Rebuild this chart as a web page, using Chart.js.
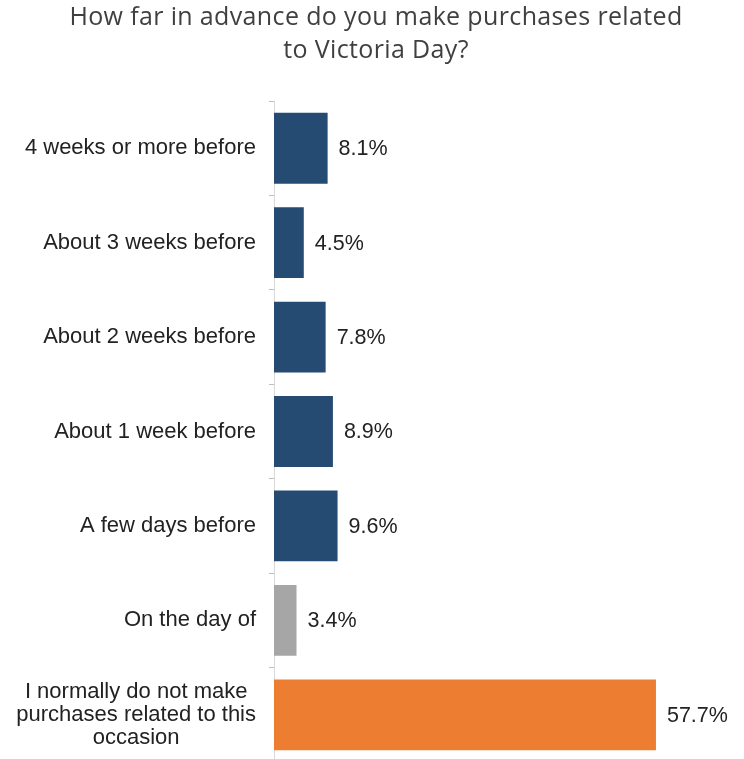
<!DOCTYPE html>
<html>
<head>
<meta charset="utf-8">
<script src="https://cdn.jsdelivr.net/npm/chart.js@4/dist/chart.umd.min.js"></script>
<style>
  html, body { margin: 0; padding: 0; background: #ffffff; overflow: hidden; }
  #wrap { width: 744px; height: 762px; }
</style>
</head>
<body>
<div id="wrap"><canvas id="chart"></canvas></div>
<script>
// Survey answers, top to bottom
const categories = [
  "4 weeks or more before",
  "About 3 weeks before",
  "About 2 weeks before",
  "About 1 week before",
  "A few days before",
  "On the day of",
  ["I normally do not make", "purchases related to this", "occasion"]
];
// Share of respondents (%)
const shares = [8.1, 4.5, 7.8, 8.9, 9.6, 3.4, 57.7];
const barColors = ["#264B73", "#264B73", "#264B73", "#264B73", "#264B73", "#A6A6A6", "#ED7D31"];
const titleLines = ["How far in advance do you make purchases related", "to Victoria Day?"];

const labelFont = "22px 'Liberation Sans', Arial, sans-serif";
const valueFont = "21.5px 'Liberation Sans', Arial, sans-serif";
const titleFont = "400 25px 'Open Sans', sans-serif";
const textColor = "#222222";

// Two-line heading above the plot
const heading = {
  id: "heading",
  afterDraw(chart) {
    const ctx = chart.ctx;
    ctx.save();
    ctx.font = titleFont;
    ctx.fillStyle = "#404040";
    ctx.textAlign = "center";
    ctx.textBaseline = "alphabetic";
    const cx = 376;
    const target = 613;
    if ("letterSpacing" in ctx) {
      const w = ctx.measureText(titleLines[0]).width;
      const sp = Math.max(0, (target - w) / titleLines[0].length);
      ctx.letterSpacing = sp.toFixed(2) + "px";
    }
    titleLines.forEach((t, k) => ctx.fillText(t, cx, 25 + k * 33));
    ctx.restore();
  }
};

// Category names (centred per label, right-aligned block) and value labels
const annotate = {
  id: "annotate",
  afterDatasetsDraw(chart) {
    const ctx = chart.ctx;
    const yScale = chart.scales.y;
    const xScale = chart.scales.x;
    const lineH = 23;
    ctx.save();
    ctx.fillStyle = textColor;
    ctx.textBaseline = "middle";

    ctx.font = labelFont;
    ctx.textAlign = "center";
    const rightEdge = yScale.right - 18;
    categories.forEach((lab, i) => {
      const lines = Array.isArray(lab) ? lab : [lab];
      const w = Math.max(...lines.map(l => ctx.measureText(l).width));
      const cx = rightEdge - w / 2;
      const cy = yScale.getPixelForValue(i);
      const y0 = cy - (lines.length - 1) * lineH / 2;
      lines.forEach((l, k) => ctx.fillText(l, cx, y0 + k * lineH));
    });

    ctx.font = valueFont;
    ctx.textAlign = "left";
    shares.forEach((v, i) => {
      const x = xScale.getPixelForValue(v) + 11;
      const y = yScale.getPixelForValue(i) + 1;
      ctx.fillText(v.toFixed(1) + "%", x, y);
    });
    ctx.restore();
  }
};

new Chart(document.getElementById("chart"), {
  type: "bar",
  data: {
    labels: categories,
    datasets: [{
      data: shares,
      backgroundColor: barColors,
      borderWidth: 0,
      barPercentage: 0.75,
      categoryPercentage: 1.0
    }]
  },
  options: {
    indexAxis: "y",
    responsive: true,
    maintainAspectRatio: false,
    animation: false,
    layout: { padding: { left: 8, right: 0, top: 101, bottom: 0 } },
    scales: {
      x: { display: false, min: 0, max: 71 },
      y: {
        grid: {
          display: true,
          drawOnChartArea: false,
          drawTicks: true,
          tickLength: 5,
          color: "#bfbfbf",
          offset: true
        },
        border: { display: true, color: "#d9d9d9", width: 1 },
        ticks: { display: false },
        afterFit(scale) { scale.width = 266; }
      }
    },
    plugins: {
      legend: { display: false },
      tooltip: { enabled: false },
      title: { display: false }
    }
  },
  plugins: [annotate, heading]
});
</script>
</body>
</html>
